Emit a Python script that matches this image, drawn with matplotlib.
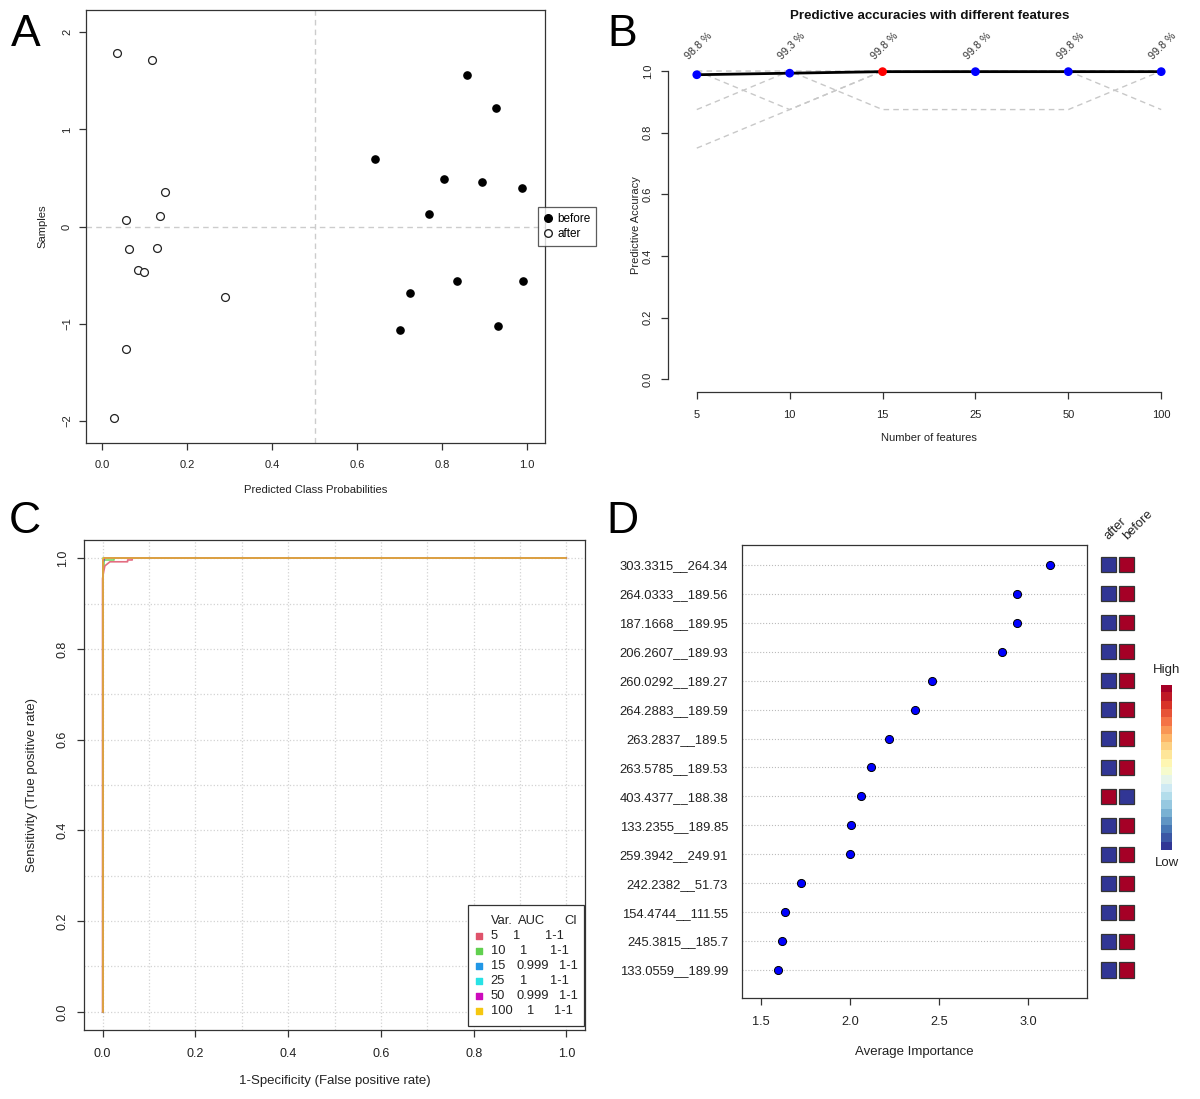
import matplotlib
matplotlib.use("Agg")
import matplotlib.pyplot as plt
import numpy as np
from matplotlib.patches import Rectangle
from matplotlib.lines import Line2D

plt.rcParams['font.family'] = ['Liberation Sans', 'DejaVu Sans']

# ---------------- DATA ----------------
# Panel A
before_prob = [0.858, 0.926, 0.643, 0.805, 0.894, 0.988, 0.770, 0.835, 0.990, 0.724, 0.700, 0.932]
before_samp = [1.56, 1.22, 0.70, 0.49, 0.46, 0.40, 0.13, -0.56, -0.56, -0.69, -1.07, -1.03]
after_prob = [0.034, 0.118, 0.147, 0.055, 0.135, 0.063, 0.129, 0.085, 0.099, 0.289, 0.057, 0.028]
after_samp = [1.79, 1.71, 0.36, 0.07, 0.11, -0.23, -0.22, -0.45, -0.47, -0.73, -1.26, -1.97]

# Panel B
n_features = ['5', '10', '15', '25', '50', '100']
mean_acc = [0.988, 0.993, 0.998, 0.998, 0.998, 0.998]
acc_labels = ['98.8 %', '99.3 %', '99.8 %', '99.8 %', '99.8 %', '99.8 %']
fold_a = [0.875, 1.0, 1.0, 1.0, 1.0, 0.875]
fold_b = [1.0, 0.875, 1.0, 1.0, 1.0, 1.0]
fold_c = [0.75, 0.875, 1.0, 1.0, 1.0, 1.0]
fold_d = [1.0, 1.0, 0.875, 0.875, 0.875, 1.0]
best_idx = 2

# Panel C
roc_vars = ['5', '10', '15', '25', '50', '100']
roc_auc = ['1', '1', '0.999', '1', '0.999', '1']
roc_ci = ['1-1', '1-1', '1-1', '1-1', '1-1', '1-1']
roc_colors = ['#DF536B', '#61D04F', '#2297E6', '#28E2E5', '#CD0BBC', '#F5C710']
fpr_5 = [0, 0, 0.002, 0.005, 0.016, 0.054, 0.054, 0.064, 0.064, 1]
tpr_5 = [0, 0.955, 0.968, 0.983, 0.992, 0.992, 0.996, 0.996, 1, 1]
fpr_10 = [0, 0, 0.003, 0.003, 0.025, 0.025, 1]
tpr_10 = [0, 0.985, 0.985, 0.995, 0.995, 1, 1]
fpr_15 = [0, 0, 0.003, 0.003, 1]
tpr_15 = [0, 0.993, 0.993, 1, 1]
fpr_25 = [0, 0, 1]
tpr_25 = [0, 1, 1]
fpr_50 = [0, 0, 0.004, 0.004, 1]
tpr_50 = [0, 0.996, 0.996, 1, 1]
fpr_100 = [0, 0, 1]
tpr_100 = [0, 1, 1]

# Panel D
feature_names = ['303.3315__264.34', '264.0333__189.56', '187.1668__189.95', '206.2607__189.93',
                 '260.0292__189.27', '264.2883__189.59', '263.2837__189.5', '263.5785__189.53',
                 '403.4377__188.38', '133.2355__189.85', '259.3942__249.91', '242.2382__51.73',
                 '154.4744__111.55', '245.3815__185.7', '133.0559__189.99']
importance = [3.124, 2.938, 2.936, 2.854, 2.461, 2.365, 2.219, 2.118, 2.062, 2.006, 2.0,
              1.725, 1.635, 1.618, 1.596]
heat_groups = ['after', 'before']
heat_after = [0, 0, 0, 0, 0, 0, 0, 0, 1, 0, 0, 0, 0, 0, 0]
heat_before = [1, 1, 1, 1, 1, 1, 1, 1, 0, 1, 1, 1, 1, 1, 1]

# ---------------- FIGURE ----------------
W, H = 1200, 1099
fig = plt.figure(figsize=(W / 100, H / 100), dpi=100)


def px_axes(left, top, right, bottom):
    return fig.add_axes([left / W, 1 - bottom / H, (right - left) / W, (bottom - top) / H])


SP = '#333333'
TXT = '#222222'


def style(ax, fs):
    for s in ax.spines.values():
        s.set_color(SP)
        s.set_linewidth(0.9)
    ax.tick_params(direction='out', length=5, width=0.9, color=SP, labelsize=fs,
                   labelcolor=TXT, pad=5)


# ---------------- A ----------------
axA = px_axes(86, 10, 545, 443)
style(axA, 8)
axA.axvline(0.5, color='#cccccc', ls='--', lw=1.0, dashes=(4, 3), zorder=1)
axA.axhline(0.0, color='#cccccc', ls='--', lw=1.0, dashes=(4, 3), zorder=1)
axA.scatter(before_prob, before_samp, s=27, c='black', zorder=3)
axA.scatter(after_prob, after_samp, s=32, facecolors='white', edgecolors='#222222',
            linewidths=0.9, zorder=3)
axA.set_xlim(-0.038, 1.042)
axA.set_ylim(-2.23, 2.23)
axA.set_xticks(np.arange(0, 1.01, 0.2))
axA.set_xticklabels(['0.0', '0.2', '0.4', '0.6', '0.8', '1.0'])
axA.set_yticks([-2, -1, 0, 1, 2])
for lab in axA.get_yticklabels():
    lab.set_rotation(90)
    lab.set_va('center')
axA.tick_params(axis='x', pad=7)
axA.tick_params(axis='y', pad=5)
axA.set_xlabel('Predicted Class Probabilities', fontsize=8.1, color=TXT)
axA.xaxis.label.set_va('center')
axA.xaxis.set_label_coords(0.5, -47 / 433)
axA.set_ylabel('Samples', fontsize=8.1, color=TXT)
axA.yaxis.label.set_va('center')
axA.yaxis.set_label_coords(-44 / 459, 0.5)
hA = [Line2D([], [], marker='o', ls='', color='black', markersize=5.5),
      Line2D([], [], marker='o', ls='', markerfacecolor='white', markeredgecolor='#222222',
             markersize=5.5)]
legA = axA.legend(hA, ['before', 'after'], loc='center left', bbox_to_anchor=(0.985, 0.5),
                  frameon=True, fancybox=False, fontsize=8.5, handlelength=0.6,
                  handletextpad=0.5, borderpad=0.5, labelspacing=0.2, borderaxespad=0)
legA.get_frame().set_edgecolor(SP)
legA.get_frame().set_linewidth(0.9)
legA.set_zorder(5)

# ---------------- B ----------------
axB = px_axes(668, 58.7, 1190, 391.7)
style(axB, 8)
xpos = np.arange(1, len(n_features) + 1)
for f in (fold_a, fold_b, fold_c, fold_d):
    axB.plot(xpos, f, color='#c8c8c8', ls='--', lw=1.0, dashes=(4, 3), zorder=1)
axB.plot(xpos, mean_acc, color='black', lw=2.0, zorder=2)
pt_colors = ['red' if i == best_idx else 'blue' for i in range(len(xpos))]
axB.scatter(xpos, mean_acc, c=pt_colors, s=28, zorder=3)
for x, lab in zip(xpos, acc_labels):
    axB.text(x + 0.02, 1.08, lab, rotation=45, ha='center', va='center', fontsize=7.7,
             color='#333333', clip_on=False)
axB.set_xlim(0.69, 6.31)
axB.set_ylim(-0.04, 1.04)
axB.spines['top'].set_visible(False)
axB.spines['right'].set_visible(False)
axB.spines['left'].set_bounds(0, 1)
axB.spines['bottom'].set_bounds(1, 6)
axB.set_xticks(xpos)
axB.set_xticklabels(n_features)
axB.set_yticks([0, 0.2, 0.4, 0.6, 0.8, 1.0])
axB.set_yticklabels(['0.0', '0.2', '0.4', '0.6', '0.8', '1.0'])
for lab in axB.get_yticklabels():
    lab.set_rotation(90)
    lab.set_va('center')
axB.tick_params(axis='x', pad=8)
axB.tick_params(axis='y', pad=6)
axB.set_xlabel('Number of features', fontsize=8, color=TXT)
axB.xaxis.label.set_va('center')
axB.xaxis.set_label_coords(0.5, -46 / 333)
axB.set_ylabel('Predictive Accuracy', fontsize=8, color=TXT)
axB.yaxis.label.set_va('center')
axB.yaxis.set_label_coords(-32 / 522, 0.5)
fig.text(929.5 / W, 1 - 16 / H, 'Predictive accuracies with different features',
         ha='center', va='center', fontsize=9.6, fontweight='bold', color='#111111')

# ---------------- C ----------------
axC = px_axes(84, 540, 585, 1030)
style(axC, 9)
for g in np.arange(0, 1.01, 0.1):
    axC.axvline(g, color='#d3d3d3', ls=':', lw=0.9, zorder=0)
    axC.axhline(g, color='#d3d3d3', ls=':', lw=0.9, zorder=0)
rocs = [(fpr_5, tpr_5), (fpr_10, tpr_10), (fpr_15, tpr_15), (fpr_25, tpr_25),
        (fpr_50, tpr_50), (fpr_100, tpr_100)]
for (fx, ty), col in zip(rocs, roc_colors):
    axC.plot(fx, ty, color=col, lw=1.2, alpha=0.85, zorder=2)
axC.set_xlim(-0.04, 1.04)
axC.set_ylim(-0.04, 1.04)
axC.set_xticks(np.arange(0, 1.01, 0.2))
axC.set_xticklabels(['0.0', '0.2', '0.4', '0.6', '0.8', '1.0'])
axC.set_yticks(np.arange(0, 1.01, 0.2))
axC.set_yticklabels(['0.0', '0.2', '0.4', '0.6', '0.8', '1.0'])
for lab in axC.get_yticklabels():
    lab.set_rotation(90)
    lab.set_va('center')
axC.tick_params(axis='x', pad=8)
axC.tick_params(axis='y', pad=6)
axC.set_xlabel('1-Specificity (False positive rate)', fontsize=9.5, color=TXT)
axC.xaxis.label.set_va('center')
axC.xaxis.set_label_coords(0.5, -51 / 490)
axC.set_ylabel('Sensitivity (True positive rate)', fontsize=9.5, color=TXT)
axC.yaxis.label.set_va('center')
axC.yaxis.set_label_coords(-52 / 501, 0.5)


def cx(p):
    return (p - 102) / 465


def cy(p):
    return (1012 - p) / 453


axC.add_patch(Rectangle((cx(468), cy(1026)), cx(585) - cx(468), cy(905) - cy(1026),
                        facecolor='white', edgecolor=SP, lw=0.9, zorder=4))
axC.text(cx(491), cy(921), 'Var.', fontsize=9.3, color=TXT, va='center', zorder=5)
axC.text(cx(518), cy(921), 'AUC', fontsize=9.3, color=TXT, va='center', zorder=5)
axC.text(cx(565), cy(921), 'CI', fontsize=9.3, color=TXT, va='center', zorder=5)
row_y = [936, 951.5, 966.5, 981.5, 996.5, 1011.5]
for v, a, ci, col, ry in zip(roc_vars, roc_auc, roc_ci, roc_colors, row_y):
    axC.scatter([cx(479)], [cy(ry)], marker='s', s=16, c=col, zorder=5)
    axC.text(cx(491), cy(ry), v, fontsize=9.3, color=TXT, va='center', zorder=5)
    ax_auc = cx(517) if a != '1' else cx(513 + 7 * (len(v) - 1))
    axC.text(ax_auc, cy(ry), a, fontsize=9.3, color=TXT, va='center', zorder=5)
    ci_x = cx(560) if a != '1' else cx(546 + 4.5 * (len(v) - 1))
    axC.text(ci_x, cy(ry), ci, fontsize=9.3, color=TXT, va='center', zorder=5)

# ---------------- D ----------------
axD = px_axes(742, 545, 1087, 998)
style(axD, 9.2)
n = len(feature_names)
ypos = np.arange(n, 0, -1)
for y in ypos:
    axD.axhline(y, color='#bbbbbb', ls=':', lw=0.8, zorder=0)
axD.scatter(importance, ypos, s=34, c='blue', edgecolors='black', linewidths=0.7, zorder=3)
axD.set_xlim(1.393, 3.331)
axD.set_ylim(0.032, 15.69)
axD.set_xticks([1.5, 2.0, 2.5, 3.0])
axD.set_xticklabels(['1.5', '2.0', '2.5', '3.0'])
axD.set_yticks(ypos)
axD.set_yticklabels(feature_names)
axD.tick_params(axis='y', length=0, pad=10, labelsize=9.4)
axD.tick_params(axis='x', pad=8, labelsize=9.2)
axD.set_xlabel('Average Importance', fontsize=9.5, color=TXT)
axD.xaxis.label.set_va('center')
axD.xaxis.set_label_coords(0.5, -54 / 453)

# heatmap of group levels
axH = px_axes(1099.2, 545, 1135.6, 998)
axH.set_xlim(-0.5, 1.5)
axH.set_ylim(0.032, 15.69)
axH.axis('off')
hm_red = '#A50026'
hm_blue = '#313695'
for y, a, b in zip(ypos, heat_after, heat_before):
    for col_i, val in enumerate((a, b)):
        axH.add_patch(Rectangle((col_i - 0.41, y - 0.26), 0.82, 0.52,
                                facecolor=hm_red if val else hm_blue,
                                edgecolor='#333333', lw=0.9))
for col_i, g in enumerate(heat_groups):
    axH.text(col_i + 0.15, 15.78, g, rotation=45, rotation_mode='anchor', ha='left',
             va='bottom', fontsize=9.3, color=TXT, clip_on=False)

# colour key
axK = px_axes(1161, 685, 1172, 850)
levels = np.linspace(0, 1, 20).reshape(-1, 1)
axK.imshow(levels, cmap=plt.get_cmap('RdYlBu_r', 20), aspect='auto', origin='lower')
axK.axis('off')
fig.text(1167 / W, 1 - 670 / H, 'High', ha='center', va='center', fontsize=9.5, color=TXT)
fig.text(1167 / W, 1 - 863 / H, 'Low', ha='center', va='center', fontsize=9.5, color=TXT)

# panel letters
for lab, x, y in (('A', 26, 34), ('B', 622, 34), ('C', 25, 522), ('D', 622, 522)):
    fig.text(x / W, 1 - y / H, lab, ha='center', va='center', fontsize=32, color='black')

fig.savefig('out.png', dpi=100)
